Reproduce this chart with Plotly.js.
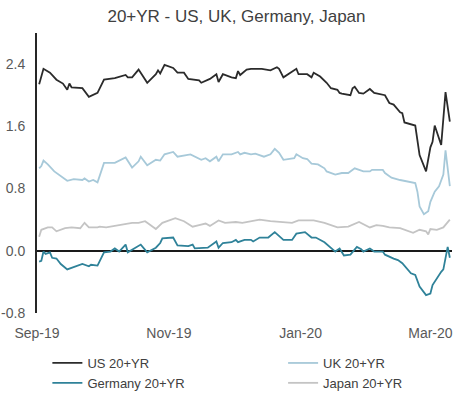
<!DOCTYPE html>
<html>
<head>
<meta charset="utf-8">
<script src="https://cdn.plot.ly/plotly-3.0.1.min.js"></script>
<style>html,body{margin:0;padding:0;background:#fff;}#chart{width:473px;height:396px;}</style>
</head>
<body>
<div id="chart"></div>
<script>
// ---- Data ----
const seriesNames = ["US 20+YR", "UK 20+YR", "Germany 20+YR", "Japan 20+YR"];

const usDates = ["2019-09-02","2019-09-04","2019-09-07","2019-09-10","2019-09-13","2019-09-15","2019-09-16","2019-09-17","2019-09-22","2019-09-25","2019-09-29","2019-10-02","2019-10-07","2019-10-12","2019-10-13","2019-10-15","2019-10-18","2019-10-22","2019-10-26","2019-10-27","2019-10-28","2019-10-30","2019-11-03","2019-11-05","2019-11-08","2019-11-10","2019-11-15","2019-11-16","2019-11-20","2019-11-23","2019-11-24","2019-11-26","2019-11-30","2019-12-02","2019-12-03","2019-12-04","2019-12-07","2019-12-09","2019-12-14","2019-12-18","2019-12-21","2019-12-22","2019-12-24","2019-12-27","2019-12-30","2019-12-31","2020-01-04","2020-01-06","2020-01-07","2020-01-10","2020-01-13","2020-01-15","2020-01-18","2020-01-19","2020-01-20","2020-01-24","2020-01-25","2020-01-26","2020-01-28","2020-01-30","2020-02-02","2020-02-04","2020-02-08","2020-02-09","2020-02-11","2020-02-13","2020-02-16","2020-02-17","2020-02-18","2020-02-21","2020-02-23","2020-02-25","2020-02-28","2020-03-01","2020-03-02","2020-03-03","2020-03-04","2020-03-06","2020-03-08","2020-03-10"];
const usValues = [2.14,2.34,2.29,2.20,2.15,2.07,2.15,2.10,2.09,1.98,2.03,2.20,2.22,2.26,2.23,2.23,2.33,2.16,2.27,2.32,2.28,2.39,2.35,2.29,2.29,2.21,2.19,2.16,2.21,2.27,2.17,2.27,2.23,2.22,2.31,2.26,2.33,2.34,2.34,2.32,2.36,2.34,2.23,2.29,2.34,2.27,2.27,2.23,2.29,2.24,2.16,2.09,2.07,2.03,2.02,2.00,2.09,2.11,2.03,2.02,2.08,2.03,2.01,2.00,1.90,1.88,1.78,1.77,1.65,1.63,1.61,1.23,1.02,1.33,1.40,1.61,1.52,1.36,2.04,1.66];

const ukDates = ["2019-09-02","2019-09-03","2019-09-04","2019-09-06","2019-09-09","2019-09-12","2019-09-15","2019-09-18","2019-09-22","2019-09-23","2019-09-25","2019-09-27","2019-09-29","2019-10-02","2019-10-07","2019-10-12","2019-10-15","2019-10-18","2019-10-19","2019-10-22","2019-10-26","2019-10-28","2019-10-30","2019-11-03","2019-11-05","2019-11-11","2019-11-13","2019-11-16","2019-11-18","2019-11-20","2019-11-23","2019-11-24","2019-11-26","2019-11-30","2019-12-03","2019-12-04","2019-12-06","2019-12-09","2019-12-11","2019-12-15","2019-12-18","2019-12-20","2019-12-22","2019-12-24","2019-12-29","2019-12-30","2020-01-02","2020-01-04","2020-01-06","2020-01-09","2020-01-12","2020-01-13","2020-01-17","2020-01-20","2020-01-23","2020-01-26","2020-01-30","2020-02-02","2020-02-03","2020-02-08","2020-02-09","2020-02-12","2020-02-16","2020-02-19","2020-02-23","2020-02-24","2020-02-25","2020-02-27","2020-02-29","2020-03-01","2020-03-03","2020-03-05","2020-03-07","2020-03-08","2020-03-10"];
const ukValues = [1.06,1.09,1.16,1.11,1.02,0.96,0.90,0.92,0.91,0.93,0.89,0.91,0.88,1.13,1.13,1.20,1.07,1.15,1.21,1.10,1.17,1.16,1.24,1.27,1.21,1.24,1.21,1.17,1.19,1.15,1.21,1.15,1.24,1.24,1.27,1.24,1.26,1.24,1.25,1.21,1.24,1.31,1.26,1.17,1.19,1.24,1.19,1.18,1.12,1.11,1.06,1.02,0.98,1.00,1.00,1.06,1.02,1.02,1.04,1.04,1.00,0.94,0.91,0.89,0.87,0.76,0.57,0.47,0.51,0.63,0.76,0.83,0.98,1.29,0.83];

const deDates = ["2019-09-02","2019-09-03","2019-09-04","2019-09-05","2019-09-07","2019-09-08","2019-09-10","2019-09-12","2019-09-15","2019-09-17","2019-09-22","2019-09-25","2019-09-26","2019-09-29","2019-10-02","2019-10-05","2019-10-07","2019-10-09","2019-10-12","2019-10-13","2019-10-16","2019-10-19","2019-10-22","2019-10-26","2019-10-28","2019-10-29","2019-11-03","2019-11-05","2019-11-10","2019-11-12","2019-11-13","2019-11-19","2019-11-23","2019-11-24","2019-11-26","2019-11-30","2019-12-02","2019-12-03","2019-12-06","2019-12-09","2019-12-10","2019-12-13","2019-12-17","2019-12-20","2019-12-24","2019-12-28","2019-12-30","2020-01-03","2020-01-06","2020-01-08","2020-01-12","2020-01-15","2020-01-17","2020-01-19","2020-01-21","2020-01-24","2020-01-27","2020-01-29","2020-01-30","2020-02-02","2020-02-04","2020-02-08","2020-02-09","2020-02-13","2020-02-15","2020-02-17","2020-02-21","2020-02-23","2020-02-25","2020-02-28","2020-03-01","2020-03-02","2020-03-04","2020-03-06","2020-03-07","2020-03-08","2020-03-09","2020-03-10"];
const deValues = [-0.14,-0.13,-0.01,-0.04,-0.02,-0.09,-0.10,-0.17,-0.24,-0.22,-0.17,-0.20,-0.18,-0.19,-0.02,-0.01,0.03,-0.01,0.08,-0.02,0.03,0.08,-0.02,0.04,0.10,0.16,0.17,0.07,0.06,0.08,0.03,0.04,0.12,0.04,0.10,0.11,0.14,0.11,0.14,0.14,0.12,0.17,0.17,0.24,0.14,0.14,0.22,0.24,0.17,0.17,0.11,0.03,-0.01,0.03,-0.06,-0.05,0.05,0.02,-0.01,0.03,-0.01,-0.01,-0.05,-0.10,-0.12,-0.16,-0.29,-0.31,-0.46,-0.57,-0.55,-0.44,-0.35,-0.27,-0.24,-0.09,0.05,-0.09];

const jpDates = ["2019-09-02","2019-09-03","2019-09-06","2019-09-08","2019-09-10","2019-09-14","2019-09-17","2019-09-21","2019-09-23","2019-09-25","2019-09-29","2019-09-30","2019-10-03","2019-10-10","2019-10-15","2019-10-18","2019-10-21","2019-10-22","2019-10-26","2019-10-29","2019-11-04","2019-11-08","2019-11-12","2019-11-15","2019-11-18","2019-11-20","2019-11-24","2019-11-27","2019-12-02","2019-12-05","2019-12-13","2019-12-18","2019-12-28","2019-12-31","2020-01-07","2020-01-12","2020-01-18","2020-01-23","2020-01-26","2020-01-28","2020-02-02","2020-02-05","2020-02-08","2020-02-11","2020-02-16","2020-02-22","2020-02-25","2020-02-28","2020-02-29","2020-03-01","2020-03-04","2020-03-07","2020-03-10"];
const jpValues = [0.18,0.27,0.30,0.30,0.25,0.29,0.30,0.29,0.36,0.30,0.30,0.31,0.30,0.33,0.36,0.36,0.38,0.36,0.28,0.36,0.42,0.38,0.31,0.33,0.35,0.32,0.39,0.36,0.37,0.36,0.40,0.38,0.36,0.39,0.39,0.36,0.30,0.31,0.35,0.37,0.30,0.33,0.32,0.30,0.29,0.23,0.27,0.25,0.21,0.28,0.27,0.30,0.40];

const xTickVals = ["2019-09-01","2019-11-01","2020-01-01","2020-03-01"];
const xTickText = ["Sep-19","Nov-19","Jan-20","Mar-20"];
const yTickVals = [-0.8, 0.0, 0.8, 1.6, 2.4];
const yTickText = ["-0.8","0.0","0.8","1.6","2.4"];

const colors = ["#2b2b2b", "#a7c9d9", "#2f8299", "#c4c4c4"];

const traces = [
  {x: usDates, y: usValues, name: seriesNames[0], type: "scatter", mode: "lines", line: {color: colors[0], width: 1.8}, legend: "legend"},
  {x: ukDates, y: ukValues, name: seriesNames[1], type: "scatter", mode: "lines", line: {color: colors[1], width: 1.8}, legend: "legend2"},
  {x: deDates, y: deValues, name: seriesNames[2], type: "scatter", mode: "lines", line: {color: colors[2], width: 1.8}, legend: "legend"},
  {x: jpDates, y: jpValues, name: seriesNames[3], type: "scatter", mode: "lines", line: {color: colors[3], width: 1.8}, legend: "legend2"}
];

const legendCommon = {
  orientation: "v",
  yanchor: "top",
  y: -0.125,
  xanchor: "left",
  bgcolor: "rgba(0,0,0,0)",
  font: {family: "Liberation Sans, Arial, sans-serif", size: 13, color: "#404040"},
  itemwidth: 30,
  tracegroupgap: 0
};

const layout = {
  width: 473,
  height: 396,
  margin: {l: 37, r: 21, t: 33, b: 83, autoexpand: false},
  paper_bgcolor: "#ffffff",
  plot_bgcolor: "#ffffff",
  font: {family: "Liberation Sans, Arial, sans-serif", color: "#595959"},
  title: {
    text: "20+YR - US, UK, Germany, Japan",
    font: {family: "Liberation Sans, Arial, sans-serif", size: 17, color: "#404040"},
    x: 0.5, xanchor: "center", y: 0.96, yanchor: "middle"
  },
  xaxis: {
    type: "date",
    range: ["2019-09-01", "2020-03-11"],
    tickvals: xTickVals,
    ticktext: xTickText,
    showgrid: false,
    showline: false,
    zeroline: false,
    ticks: "",
    ticklabelstandoff: 10,
    tickfont: {size: 14, color: "#595959"}
  },
  yaxis: {
    range: [-0.8, 2.8],
    tickvals: yTickVals,
    ticktext: yTickText,
    showgrid: false,
    showline: true,
    linecolor: "#262626",
    linewidth: 2,
    zeroline: true,
    zerolinecolor: "#1a1a1a",
    zerolinewidth: 1.6,
    ticks: "",
    ticklabelstandoff: 7,
    tickfont: {size: 14, color: "#595959"}
  },
  showlegend: true,
  legend: Object.assign({}, legendCommon, {x: 0.025}),
  legend2: Object.assign({}, legendCommon, {x: 0.593})
};

Plotly.newPlot("chart", traces, layout, {displayModeBar: false, staticPlot: true});
</script>
</body>
</html>
